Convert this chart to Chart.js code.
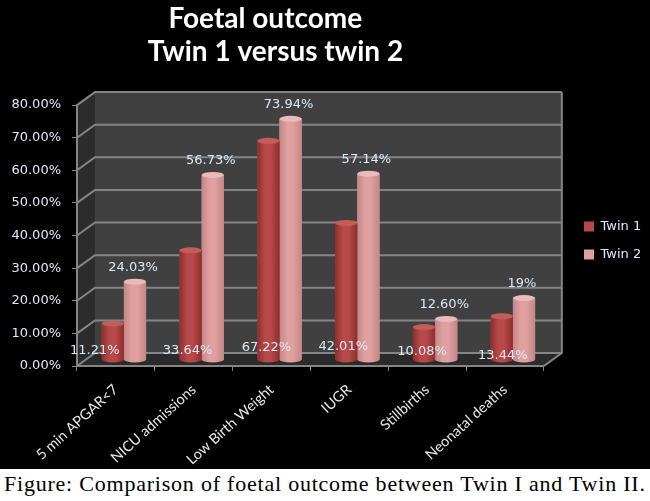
<!DOCTYPE html>
<html>
<head>
<meta charset="utf-8">
<script src="https://cdn.jsdelivr.net/npm/chart.js@4"></script>
<style>
html, body { margin: 0; padding: 0; background: #fff; overflow: hidden; }
#wrap { width: 650px; height: 469px; background: #000; }
canvas { display: block; }
#caption { font: 22px "Liberation Serif", serif; color: #000; white-space: nowrap; padding: 2px 0 0 4px; letter-spacing: 0.78px; }
</style>
</head>
<body>
<div id="wrap"><canvas id="chart" width="650" height="469"></canvas></div>
<div id="caption">Figure: Comparison of foetal outcome between Twin I and Twin II.</div>
<script>
var categories = ["5 min APGAR<7", "NICU admissions", "Low Birth Weight", "IUGR", "Stillbirths", "Neonatal deaths"];
var twin1 = [11.21, 33.64, 67.22, 42.01, 10.08, 13.44];
var twin2 = [24.03, 56.73, 73.94, 57.14, 12.60, 19];
var twin1Labels = ["11.21%", "33.64%", "67.22%", "42.01%", "10.08%", "13.44%"];
var twin2Labels = ["24.03%", "56.73%", "73.94%", "57.14%", "12.60%", "19%"];

// twin 1 labels sit low on the bars, each nudged a bit differently in the original
var twin1Nudge = [[-18, -9], [-3, -9], [-2, -12], [-3, -13], [-2, -8], [1, -4]];

var BAR_SHIFT = [8, -6];   // bars stand behind the front plane of the fake 3d box
var WALL_SHIFT = [18, -13];
var GRID = "#858585";
var LABEL = "#dde9f4";

var shades = [
  { edge: "#8d2f2c", mid: "#b8494a", cap: "#c25d5a" },
  { edge: "#c48686", mid: "#e0a0a0", cap: "#ebbaba" }
];

function poly( ctx, points, fill ) {
  ctx.beginPath();
  points.forEach( function( p, i ) {
    if( i === 0 ) ctx.moveTo( p[0], p[1] ); else ctx.lineTo( p[0], p[1] );
  } );
  ctx.closePath();
  ctx.fillStyle = fill;
  ctx.fill();
}

var boxPlugin = {
  id: "box",
  afterLayout: function( chart ) {
    chart.legend.left = 569;
    chart.legend.right = 650; // the legend clips to its own box
    chart.legend.top = 205;
    chart.titleBlock.right = 551;
  },
  beforeDraw: function( chart ) {
    var ctx = chart.ctx, a = chart.chartArea, y = chart.scales.y;
    var dx = WALL_SHIFT[0], dy = WALL_SHIFT[1];
    ctx.save();
    poly( ctx, [[a.left + dx, a.top + dy], [a.right + dx, a.top + dy], [a.right + dx, a.bottom + dy], [a.left + dx, a.bottom + dy]], "#404040" );
    poly( ctx, [[a.left, a.top], [a.left + dx, a.top + dy], [a.left + dx, a.bottom + dy], [a.left, a.bottom]], "#2c2c2c" );
    poly( ctx, [[a.left, a.bottom], [a.left + dx, a.bottom + dy], [a.right + dx, a.bottom + dy], [a.right, a.bottom]], "#2b2b2b" );
    ctx.strokeStyle = GRID;
    ctx.lineWidth = 2;
    y.ticks.forEach( function( t ) {
      var py = y.getPixelForValue( t.value );
      ctx.beginPath();
      ctx.moveTo( a.left, py );
      ctx.lineTo( a.left + dx, py + dy );
      ctx.lineTo( a.right + dx, py + dy );
      ctx.stroke();
    } );
    ctx.beginPath();
    ctx.moveTo( a.right, a.bottom );
    ctx.lineTo( a.right + dx, a.bottom + dy );
    ctx.lineTo( a.right + dx, a.top + dy );
    ctx.stroke();
    ctx.restore();
  },
  beforeDatasetsDraw: function( chart ) {
    chart.ctx.save();
    chart.ctx.translate( BAR_SHIFT[0], BAR_SHIFT[1] );
  },
  afterDatasetDraw: function( chart, args ) {
    // round the flat bars into cylinders
    var ctx = chart.ctx, shade = shades[args.index];
    args.meta.data.forEach( function( bar ) {
      var w = bar.width / 2, ry = 3;
      var g = ctx.createLinearGradient( bar.x - w, 0, bar.x + w, 0 );
      g.addColorStop( 0, shade.edge );
      g.addColorStop( 0.35, shade.mid );
      g.addColorStop( 0.6, shade.mid );
      g.addColorStop( 1, shade.edge );
      ctx.beginPath();
      ctx.moveTo( bar.x - w, bar.y );
      ctx.lineTo( bar.x - w, bar.base );
      ctx.ellipse( bar.x, bar.base, w, ry, 0, Math.PI, 0, true );
      ctx.lineTo( bar.x + w, bar.y );
      ctx.closePath();
      ctx.fillStyle = g;
      ctx.fill();
      ctx.beginPath();
      ctx.ellipse( bar.x, bar.y, w, ry, 0, 0, Math.PI * 2 );
      ctx.fillStyle = shade.cap;
      ctx.fill();
    } );
  },
  afterDatasetsDraw: function( chart ) {
    var ctx = chart.ctx;
    ctx.restore();
    ctx.save();
    ctx.font = "13px 'DejaVu Sans'";
    ctx.fillStyle = LABEL;
    ctx.textAlign = "center";
    ctx.textBaseline = "middle";
    chart.getDatasetMeta( 0 ).data.forEach( function( bar, i ) {
      ctx.fillText( twin1Labels[i], bar.x + BAR_SHIFT[0] + twin1Nudge[i][0], bar.base + BAR_SHIFT[1] + twin1Nudge[i][1] );
    } );
    chart.getDatasetMeta( 1 ).data.forEach( function( bar, i ) {
      ctx.fillText( twin2Labels[i], bar.x + BAR_SHIFT[0] - 2, bar.y + BAR_SHIFT[1] - 14 );
    } );
    ctx.restore();
  }
};

var chart = new Chart( document.getElementById( "chart" ), {
  type: "bar",
  data: {
    labels: categories,
    datasets: [
      { label: "Twin 1", data: twin1, backgroundColor: shades[0].mid, borderWidth: 0 },
      { label: "Twin 2", data: twin2, backgroundColor: shades[1].mid, borderWidth: 0 }
    ]
  },
  options: {
    responsive: false,
    animation: false,
    devicePixelRatio: 1,
    layout: { padding: { top: 2, right: 24 } },
    datasets: { bar: { categoryPercentage: 0.57, barPercentage: 1 } },
    plugins: {
      tooltip: { enabled: false },
      title: {
        display: true,
        text: ["Foetal outcome   ", "Twin 1 versus twin 2"],
        color: "#fff",
        font: { family: "Lato", size: 28, weight: "bold", lineHeight: 1.18 },
        padding: { top: 0, bottom: 37 }
      },
      legend: {
        position: "right",
        align: "start",
        labels: {
          color: "#dde9f4",
          font: { family: "DejaVu Sans", size: 13 },
          boxWidth: 10,
          boxHeight: 10,
          padding: 15
        }
      }
    },
    scales: {
      y: {
        min: 0,
        max: 80,
        afterFit: function( s ) { s.width = 77; },
        ticks: {
          stepSize: 10,
          padding: 11,
          color: LABEL,
          font: { family: "DejaVu Sans", size: 13 },
          callback: function( v ) { return v.toFixed( 2 ) + "%"; }
        },
        grid: { drawOnChartArea: false, color: GRID, tickLength: 5 },
        border: { color: GRID, width: 2 }
      },
      x: {
        afterFit: function( s ) { s.height = 103; },
        ticks: {
          padding: 10,
          color: "#e8e8e8",
          font: { family: "Lato", size: 14.5 },
          minRotation: 42,
          maxRotation: 42,
          autoSkip: false
        },
        grid: { drawOnChartArea: false, color: GRID, tickLength: 5 },
        border: { color: GRID, width: 2 }
      }
    }
  },
  plugins: [boxPlugin]
} );
</script>
</body>
</html>
